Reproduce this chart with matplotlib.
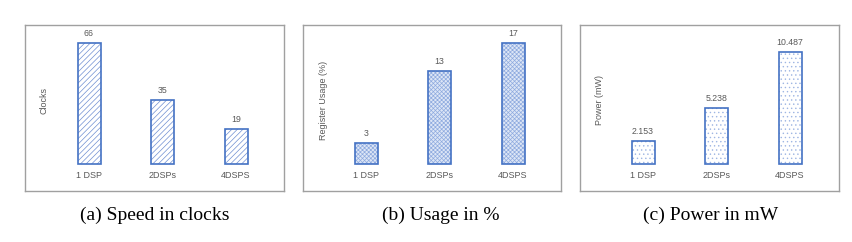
import matplotlib
matplotlib.use('Agg')
import matplotlib.pyplot as plt

# 数据
categories = ['1 DSP', '2DSPs', '4DSPS']
clocks = [66, 35, 19]
usage = [3, 13, 17]
power = [2.153, 5.238, 10.487]
value_labels_power = ['2.153', '5.238', '10.487']

ylabels = ['Clocks', 'Register Usage (%)', 'Power (mW)']
captions = ['(a) Speed in clocks', '(b) Usage in %', '(c) Power in mW']

W, H = 852, 242
plt.rcParams['hatch.linewidth'] = 0.5

fig = plt.figure(figsize=(W / 100, H / 100), dpi=100)
fig.patch.set_facecolor('white')

BLUE = '#4472C4'
GRAY_TXT = '#595959'

# 每个面板的像素布局: 框(左,上,右,下), 第一个类别中心, 类别间距, 基线, 最大值柱顶
panels = [
    dict(values=clocks, labels=[str(v) for v in clocks], frame=(25, 25, 284, 191),
         c0=89, step=73.5, base=164, top=43, hatch='//////', hcolor='#6f8fd2',
         face='white', ylab_x=44, cap_x=155),
    dict(values=usage, labels=[str(v) for v in usage], frame=(303, 25, 561, 191),
         c0=366, step=73.5, base=164, top=43, hatch='xxxxxxxx', hcolor='#8eaadf',
         face='#dde6f6', ylab_x=323, cap_x=441),
    dict(values=power, labels=value_labels_power, frame=(580, 25, 839, 191),
         c0=643, step=73.5, base=164, top=52, hatch='....', hcolor='#9fb6e3',
         face='white', ylab_x=599, cap_x=711),
]

for i, p in enumerate(panels):
    x0, y0, x1, y1 = p['frame']
    ax = fig.add_axes([x0 / W, 1 - y1 / H, (x1 - x0) / W, (y1 - y0) / H])
    vals = p['values']
    # 坐标范围: 按像素换算
    xl = -(p['c0'] - x0) / p['step']
    xr = xl + (x1 - x0) / p['step']
    scale = (p['base'] - p['top']) / max(vals)
    yb = -(y1 - p['base']) / scale
    yt = yb + (y1 - y0) / scale
    ax.set_xlim(xl, xr)
    ax.set_ylim(yb, yt)

    xs = range(len(categories))
    bw = 23 / p['step']
    # 先画填充纹理, 再画边框
    ax.bar(xs, vals, width=bw, color=p['face'], edgecolor=p['hcolor'],
           hatch=p['hatch'], linewidth=0)
    ax.bar(xs, vals, width=bw, fill=False, edgecolor=BLUE, linewidth=1.2)
    for x, v, lab in zip(xs, vals, p['labels']):
        ax.text(x, v + 5 / scale, lab, ha='center', va='bottom', fontsize=6.3,
                color=GRAY_TXT, family='Liberation Sans')
        ax.text(x, -7 / scale, categories[x], ha='center', va='top', fontsize=6.5,
                color=GRAY_TXT, family='Liberation Sans')

    ax.set_xticks([])
    ax.set_yticks([])
    for s in ax.spines.values():
        s.set_color('#a0a0a0')
        s.set_linewidth(1.0)

    fig.text(p['ylab_x'] / W, 1 - 100 / H, ylabels[i], rotation=90, ha='center',
             va='center', fontsize=6.5, color=GRAY_TXT, family='Liberation Sans')
    fig.text(p['cap_x'] / W, 1 - 215 / H, captions[i], ha='center', va='center',
             fontsize=14, color='black', family='Liberation Serif')

plt.savefig('out.png', dpi=100, facecolor='white')
plt.close()
